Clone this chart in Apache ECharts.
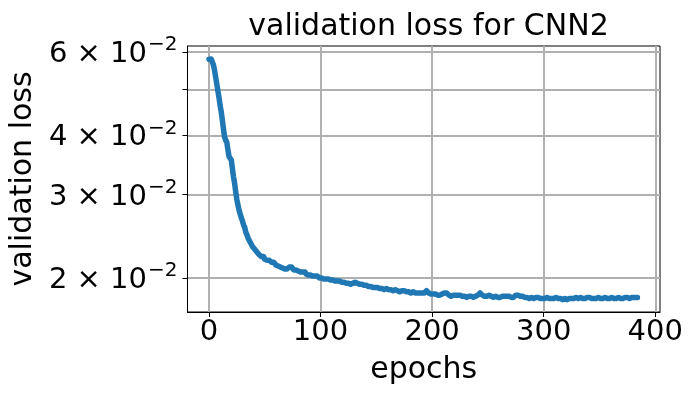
<!DOCTYPE html>
<html>
<head>
<meta charset="utf-8">
<script src="https://cdn.jsdelivr.net/npm/echarts@6/dist/echarts.min.js"></script>
<style>html,body{margin:0;padding:0;background:#fff}#c{width:700px;height:400px}</style>
</head>
<body>
<div id="c"></div>
<script>
const titleText = 'validation loss for CNN2';
const xName = 'epochs';
const yName = 'validation loss';
const xTicks = [0, 100, 200, 300, 400];
const yTicks = [0.02, 0.03, 0.04, 0.05, 0.06];
const yLabelTicks = [0.02, 0.03, 0.04, 0.06];
const yMantissa = {0.02: '2', 0.03: '3', 0.04: '4', 0.06: '6'};
const lossValues = [
0.0579,0.0581,0.0580,0.0576,0.0564,0.0549,0.0531,0.0514,0.0497,0.0481,
0.0463,0.0449,0.0431,0.0413,0.0397,0.0391,0.0387,0.0373,0.0361,0.0360,
0.0355,0.0341,0.0327,0.0317,0.0304,0.0293,0.0285,0.0278,0.0273,0.0268,
0.0264,0.0259,0.0256,0.0250,0.0247,0.0243,0.0241,0.0238,0.0236,0.0233,
0.0233,0.0230,0.0228,0.0227,0.0226,0.0224,0.0225,0.0222,0.0221,0.0222,
0.0219,0.0220,0.0218,0.0217,0.0218,0.0216,0.0216,0.0215,0.0216,0.0214,
0.0213,0.0214,0.0212,0.0213,0.0211,0.0211,0.0210,0.0211,0.0209,0.0210,
0.0209,0.0210,0.0211,0.0212,0.0211,0.0209,0.0208,0.0207,0.0208,0.0206,
0.0207,0.0206,0.0206,0.0205,0.0206,0.0205,0.0206,0.0204,0.0204,0.0203,
0.0204,0.0203,0.0203,0.0202,0.0203,0.0202,0.0201,0.0202,0.0201,0.0200,
0.0201,0.0200,0.0200,0.0199,0.0200,0.0199,0.0198,0.0199,0.0198,0.0198,
0.0197,0.0198,0.0197,0.0197,0.0196,0.0197,0.0196,0.0197,0.0196,0.0196,
0.0195,0.0196,0.0195,0.0195,0.0194,0.0195,0.0195,0.0194,0.0195,0.0195,
0.0196,0.0196,0.0196,0.0195,0.0194,0.0194,0.0193,0.0194,0.0193,0.0193,
0.0192,0.0193,0.0192,0.0192,0.0191,0.0192,0.0191,0.0191,0.0192,0.0191,
0.0190,0.0191,0.0190,0.0190,0.0189,0.0190,0.0190,0.0189,0.0189,0.0190,
0.0189,0.0189,0.0188,0.0189,0.0189,0.0188,0.0188,0.0189,0.0188,0.0188,
0.0188,0.0187,0.0188,0.0188,0.0187,0.0188,0.0187,0.0187,0.0188,0.0187,
0.0187,0.0186,0.0187,0.0187,0.0186,0.0186,0.0187,0.0186,0.0186,0.0186,
0.0185,0.0186,0.0186,0.0186,0.0187,0.0188,0.0187,0.0186,0.0186,0.0185,
0.0185,0.0185,0.0184,0.0185,0.0184,0.0184,0.0185,0.0184,0.0185,0.0185,
0.0185,0.0186,0.0187,0.0186,0.0185,0.0184,0.0184,0.0183,0.0184,0.0184,
0.0183,0.0184,0.0183,0.0184,0.0183,0.0184,0.0183,0.0183,0.0184,0.0183,
0.0183,0.0182,0.0183,0.0183,0.0184,0.0183,0.0183,0.0182,0.0183,0.0183,
0.0184,0.0184,0.0185,0.0186,0.0185,0.0184,0.0183,0.0183,0.0184,0.0183,
0.0183,0.0184,0.0183,0.0183,0.0184,0.0182,0.0183,0.0183,0.0183,0.0182,
0.0183,0.0182,0.0183,0.0183,0.0182,0.0183,0.0184,0.0183,0.0182,0.0183,
0.0183,0.0182,0.0183,0.0182,0.0183,0.0184,0.0185,0.0184,0.0183,0.0183,
0.0182,0.0183,0.0182,0.0182,0.0183,0.0182,0.0182,0.0181,0.0182,0.0182,
0.0182,0.0181,0.0182,0.0182,0.0181,0.0182,0.0182,0.0181,0.0182,0.0181,
0.0182,0.0181,0.0182,0.0182,0.0181,0.0181,0.0182,0.0181,0.0182,0.0181,
0.0181,0.0182,0.0181,0.0181,0.0182,0.0181,0.0181,0.0180,0.0181,0.0181,
0.0181,0.0180,0.0181,0.0181,0.0180,0.0181,0.0182,0.0181,0.0181,0.0182,
0.0182,0.0181,0.0182,0.0182,0.0181,0.0181,0.0182,0.0181,0.0181,0.0182,
0.0181,0.0182,0.0181,0.0181,0.0182,0.0181,0.0182,0.0181,0.0181,0.0182,
0.0181,0.0181,0.0182,0.0181,0.0181,0.0182,0.0181,0.0181,0.0182,0.0181,
0.0181,0.0182,0.0181,0.0181,0.0182,0.0181,0.0181,0.0182,0.0181,0.0181,
0.0182,0.0181,0.0181,0.0182,0.0181,0.0182,0.0181,0.0181,0.0182,0.0182,
0.0181,0.0182,0.0181,0.0182,0.0182
];
const epochs = lossValues.map((_, i) => i);

const FONT = 'DejaVu Sans';
const GRID_COLOR = '#b0b0b0';
const chart = echarts.init(document.getElementById('c'), null, {renderer: 'canvas'});
chart.setOption({
  animation: false,
  backgroundColor: '#fff',
  textStyle: {fontFamily: FONT},
  title: {
    text: titleText,
    left: 423.5,
    textAlign: 'center',
    top: 7,
    textStyle: {fontFamily: FONT, fontSize: 30, fontWeight: 'normal', color: '#000'}
  },
  grid: {left: 187, right: 40, top: 46, bottom: 88, show: true, borderColor: '#000', borderWidth: 1, backgroundColor: 'transparent'},
  xAxis: {
    type: 'value',
    min: -19.25,
    max: 404.25,
    name: xName,
    nameLocation: 'middle',
    nameGap: 43,
    nameTextStyle: {fontFamily: FONT, fontSize: 30, color: '#000'},
    axisLine: {show: true, onZero: false, lineStyle: {color: '#000', width: 1}},
    axisTick: {show: true, length: 5, customValues: xTicks, lineStyle: {color: '#000', width: 1}},
    axisLabel: {customValues: xTicks, fontFamily: FONT, fontSize: 29, color: '#000', margin: 6},
    splitLine: {show: true, lineStyle: {color: GRID_COLOR, width: 2}}
  },
  yAxis: {
    type: 'log',
    min: 0.016953,
    max: 0.06178,
    name: yName,
    nameLocation: 'middle',
    nameGap: 140,
    nameTextStyle: {fontFamily: FONT, fontSize: 30, color: '#000'},
    axisLine: {show: true, onZero: false, lineStyle: {color: '#000', width: 1}},
    axisTick: {show: true, length: 5, customValues: yTicks, lineStyle: {color: '#000', width: 1}},
    axisLabel: {
      customValues: yLabelTicks,
      margin: 10,
      formatter: function (v) {
        const key = Math.round(v * 100) / 100;
        const m = yMantissa[key];
        return m ? '{m|' + m + ' × 10}{e|−2}' : '';
      },
      rich: {
        m: {fontFamily: FONT, fontSize: 29, color: '#000', lineHeight: 34, verticalAlign: 'bottom'},
        e: {fontFamily: FONT, fontSize: 20, color: '#000', lineHeight: 34, verticalAlign: 'top', padding: [0, 0, 0, 1]}
      }
    },
    splitLine: {show: true, lineStyle: {color: GRID_COLOR, width: 2}}
  },
  series: [{
    type: 'line',
    data: epochs.map((e, i) => [e, lossValues[i]]),
    symbol: 'none',
    lineStyle: {color: '#1f77b4', width: 5.5, cap: 'round', join: 'round'},
    itemStyle: {color: '#1f77b4'},
    z: 3
  }]
});
</script>
</body>
</html>
